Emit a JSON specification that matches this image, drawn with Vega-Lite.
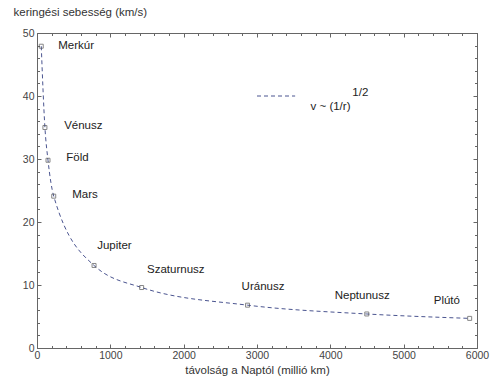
{
  "$schema": "https://vega.github.io/schema/vega-lite/v6.json",
  "width": 440,
  "height": 315,
  "autosize": "none",
  "padding": {"left": 37, "top": 33, "right": 23, "bottom": 42},
  "background": "white",
  "config": {
    "font": "Liberation Sans",
    "view": {"stroke": "#666666", "strokeWidth": 1},
    "axis": {"domainColor": "#666666", "tickColor": "#666666", "labelColor": "#444444", "labelFont": "Liberation Sans", "titleFont": "Liberation Sans", "titleColor": "#333333", "titleFontWeight": "normal", "labelFontSize": 10.5, "titleFontSize": 11.5, "grid": false}
  },
  "datasets": {
    "planets": [
      {"planet": "Merkúr", "dist": 58, "v": 47.9, "lx": 290, "ly": 47.9},
      {"planet": "Vénusz", "dist": 108, "v": 35.0, "lx": 370, "ly": 35.2},
      {"planet": "Föld", "dist": 150, "v": 29.8, "lx": 400, "ly": 30.2},
      {"planet": "Mars", "dist": 228, "v": 24.1, "lx": 480, "ly": 24.3},
      {"planet": "Jupiter", "dist": 778, "v": 13.1, "lx": 820, "ly": 16.2},
      {"planet": "Szaturnusz", "dist": 1427, "v": 9.6, "lx": 1500, "ly": 12.4},
      {"planet": "Uránusz", "dist": 2871, "v": 6.8, "lx": 2790, "ly": 9.7},
      {"planet": "Neptunusz", "dist": 4497, "v": 5.4, "lx": 4060, "ly": 8.3},
      {"planet": "Plútó", "dist": 5900, "v": 4.7, "lx": 5410, "ly": 7.5}
    ],
    "legend": [
      {"x1": 3000, "x2": 3520, "y": 40.0}
    ],
    "legendText": [
      {"t": "v ~ (1/r)", "x": 3730, "y": 38.3, "size": 11.5},
      {"t": "1/2", "x": 4300, "y": 40.5, "size": 11.5}
    ]
  },
  "resolve": {"axis": {"x": "independent", "y": "independent"}},
  "layer": [
    {
      "data": {"name": "planets"},
      "mark": {"type": "line", "interpolate": "monotone", "strokeDash": [4, 3], "color": "#4b5590", "strokeWidth": 1},
      "encoding": {
        "x": {"field": "dist", "type": "quantitative", "scale": {"domain": [0, 6000], "nice": false},
          "axis": {"orient": "bottom", "values": [0,200,400,600,800,1000,1200,1400,1600,1800,2000,2200,2400,2600,2800,3000,3200,3400,3600,3800,4000,4200,4400,4600,4800,5000,5200,5400,5600,5800,6000],
            "format": "d", "labelExpr": "datum.value % 1000 === 0 ? datum.label : ''",
            "tickSize": {"condition": {"test": "datum.value % 1000 === 0", "value": -4}, "value": -2.5},
            "labelPadding": 6, "labelFlush": false, "title": "távolság a Naptól (millió km)", "titlePadding": 4}},
        "y": {"field": "v", "type": "quantitative", "scale": {"domain": [0, 50], "nice": false},
          "axis": {"orient": "left", "values": [0,2,4,6,8,10,12,14,16,18,20,22,24,26,28,30,32,34,36,38,40,42,44,46,48,50],
            "labelExpr": "datum.value % 10 === 0 ? datum.label : ''",
            "tickSize": {"condition": {"test": "datum.value % 10 === 0", "value": -4}, "value": -2.5},
            "labelPadding": 7, "labelFlush": false,
            "title": "keringési sebesség (km/s)", "titleAngle": 0, "titleAlign": "left", "titleBaseline": "middle", "titleX": -24, "titleY": -21}}
      }
    },
    {
      "data": {"name": "planets"},
      "mark": {"type": "square", "size": 16, "filled": false, "color": "#555555", "strokeWidth": 1},
      "encoding": {
        "x": {"field": "dist", "type": "quantitative",
          "axis": {"orient": "top", "values": [0,200,400,600,800,1000,1200,1400,1600,1800,2000,2200,2400,2600,2800,3000,3200,3400,3600,3800,4000,4200,4400,4600,4800,5000,5200,5400,5600,5800,6000],
            "labels": false, "title": null,
            "tickSize": {"condition": {"test": "datum.value % 1000 === 0", "value": -4}, "value": -2.5}}},
        "y": {"field": "v", "type": "quantitative",
          "axis": {"orient": "right", "values": [0,2,4,6,8,10,12,14,16,18,20,22,24,26,28,30,32,34,36,38,40,42,44,46,48,50],
            "labels": false, "title": null,
            "tickSize": {"condition": {"test": "datum.value % 10 === 0", "value": -4}, "value": -2.5}}}
      }
    },
    {
      "data": {"name": "planets"},
      "mark": {"type": "text", "align": "left", "baseline": "middle", "fontSize": 11.5, "color": "#222222"},
      "encoding": {
        "x": {"field": "lx", "type": "quantitative", "axis": null},
        "y": {"field": "ly", "type": "quantitative", "axis": null},
        "text": {"field": "planet"}
      }
    },
    {
      "data": {"name": "legend"},
      "mark": {"type": "rule", "strokeDash": [4, 3], "color": "#4b5590", "strokeWidth": 1},
      "encoding": {
        "x": {"field": "x1", "type": "quantitative", "axis": null},
        "x2": {"field": "x2"},
        "y": {"field": "y", "type": "quantitative", "axis": null}
      }
    },
    {
      "data": {"name": "legendText"},
      "mark": {"type": "text", "align": "left", "baseline": "middle", "fontSize": 11.5, "color": "#222222"},
      "encoding": {
        "x": {"field": "x", "type": "quantitative", "axis": null},
        "y": {"field": "y", "type": "quantitative", "axis": null},
        "text": {"field": "t"}
      }
    }
  ]
}
